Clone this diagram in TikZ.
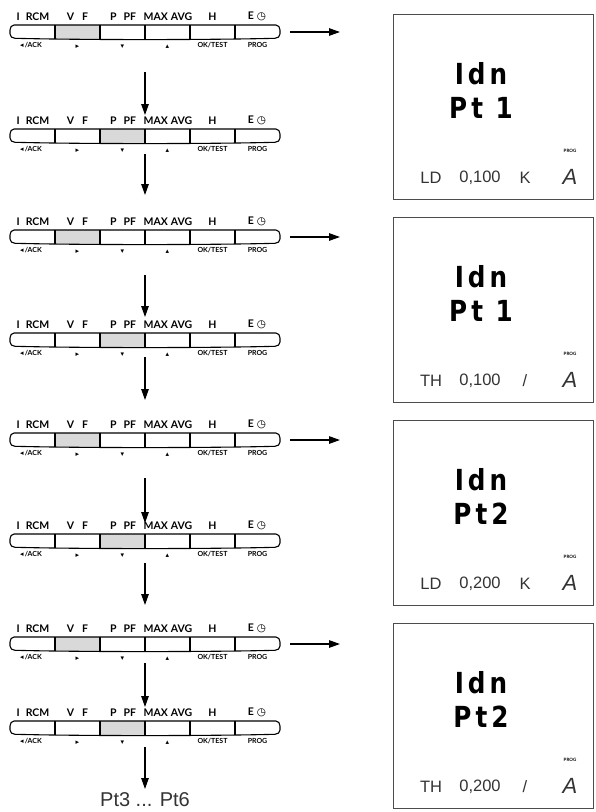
\documentclass[tikz,border=0pt]{standalone}
\usepackage{fontspec}
\usepackage{tikz}
\usetikzlibrary{arrows.meta}
\usepackage{xcolor}

\newfontfamily\kpfont{Lato}
\newfontfamily\glyphfont{DejaVu Sans}
\newfontfamily\segfont{DejaVu Sans}[FakeStretch=0.85, LetterSpace=14]
\newfontfamily\plainfont{Liberation Sans}
\definecolor{keygray}{gray}{0.85}

\tikzset{
    kpline/.style={line width=1.1pt, line join=round},
    kptop/.style={inner sep=0, font=\kpfont\bfseries\fontsize{10.5}{11}\selectfont},
    kpbot/.style={inner sep=0, font=\kpfont\bfseries\fontsize{7}{8}\selectfont},
    flow/.style={line width=1.3pt, -{Triangle[length=11pt,width=7.5pt]}},
    lcdbig/.style={inner sep=0, font=\segfont\bfseries\fontsize{29}{31}\selectfont},
    lcdsmall/.style={inner sep=0, text=black!80, font=\plainfont\fontsize{16.5}{17}\selectfont},
    lcdunit/.style={inner sep=0, text=black!80, font=\plainfont\itshape\fontsize{22}{23}\selectfont},
    lcdtag/.style={inner sep=0, font=\kpfont\bfseries\fontsize{4.5}{5}\selectfont},
    % key strip, #1 = key that is lit
    pics/keypad/.style={code={
        \fill[keygray] (45*#1-180,-7) rectangle (45*#1-135,7.3);
        \draw[kpline] (-131,-7) -- (131,-7) to[out=0,in=90] (135,-2) -- (135,2)
            to[out=-90,in=0] (130,6.3) .. controls (60,8) and (-60,8) .. (-130,6.3)
            to[out=180,in=-90] (-135,2) -- (-135,-2) to[out=90,in=180] (-131,-7) -- cycle;
        \foreach \k in {-90,-45,0,45,90}
            \draw[kpline] (\k,-7) -- (\k,7.4);
        \coordinate (-c) at (0,0);
        \coordinate (-out) at (135,0);
        \node[kptop] (-t1) at (-112,-15.5) {I\hspace{6pt}RCM};
        \node[kptop] (-t2) at (-67.5,-15.5) {V\hspace{8pt}F};
        \node[kptop] (-t3) at (-22,-15.5) {P\hspace{7pt}PF};
        \node[kptop] (-t4) at (23,-15.5) {MAX\hspace{3pt}AVG};
        \node[kptop] (-t5) at (67.5,-15.5) {H};
        \node[kptop] (-t6) at (112,-15.5) {E\hspace{3pt}{\glyphfont\mdseries ◷}};
        \node[kpbot] (-b1) at (-114,13) {{\glyphfont ◂}\,/ACK};
        \node[kpbot] (-b2) at (-67.5,14.5) {\glyphfont ▸};
        \node[kpbot] (-b3) at (-22.5,14.5) {\glyphfont ▾};
        \node[kpbot] (-b4) at (22.5,14.5) {\glyphfont ▴};
        \node[kpbot] (-b5) at (67.5,13.5) {OK/TEST};
        \node[kpbot] (-b6) at (112.5,13) {PROG};
    }},
    % display, #1 = point, #2 #3 #4 = bottom line
    pics/display/.style n args={4}{code={
        \node[draw=black!70, line width=0.7pt, minimum width=200pt, minimum height=185pt] (-frame) at (0,0) {};
        \node[lcdbig] (-l1) at (-12,-32.5) {Idn};
        \node[lcdbig] (-l2) at (-12,1.5) {#1};
        \node[lcdtag] (-prog) at (77,44.5) {PROG};
        \node[lcdsmall] (-mode) at (-62,71) {#2};
        \node[lcdsmall] (-val) at (-13,71) {#3};
        \node[lcdsmall] (-sign) at (32,71) {#4};
        \node[lcdunit] (-unit) at (77,70) {A};
    }}
}

\begin{document}
\begin{tikzpicture}[x=1pt, y=-1pt]
    \useasboundingbox (0,0) rectangle (596,812);
    % key strips
    \pic (kp1) at (145,32) {keypad=2};
    \pic (kp2) at (145,136) {keypad=3};
    \pic (kp3) at (145,237) {keypad=2};
    \pic (kp4) at (145,340) {keypad=3};
    \pic (kp5) at (145,440) {keypad=2};
    \pic (kp6) at (145,541) {keypad=3};
    \pic (kp7) at (145,644) {keypad=2};
    \pic (kp8) at (145,728) {keypad=3};
    \node[inner sep=0, anchor=north, text=black!80, font=\plainfont\fontsize{20}{22}\selectfont] (more) at (145,792) {Pt3 ... Pt6};
    % displays
    \pic (lcd1) at (493,106.5) {display={Pt 1}{LD}{0,100}{K}};
    \pic (lcd2) at (493,309.5) {display={Pt 1}{TH}{0,100}{/}};
    \pic (lcd3) at (493,512.5) {display={Pt2}{LD}{0,200}{K}};
    \pic (lcd4) at (493,715.5) {display={Pt2}{TH}{0,200}{/}};
    \coordinate (to1) at (340,32);
    \coordinate (to3) at (340,237);
    \coordinate (to5) at (340,440);
    \coordinate (to7) at (340,644);
    % down the strips
    \draw[flow, shorten <=40pt, shorten >=21pt] (kp1-c) -- (kp2-c);
    \draw[flow, shorten <=18pt, shorten >=42pt] (kp2-c) -- (kp3-c);
    \draw[flow, shorten <=38pt, shorten >=23pt] (kp3-c) -- (kp4-c);
    \draw[flow, shorten <=17pt, shorten >=40pt] (kp4-c) -- (kp5-c);
    \draw[flow, shorten <=38pt, shorten >=18pt] (kp5-c) -- (kp6-c);
    \draw[flow, shorten <=22pt, shorten >=39pt] (kp6-c) -- (kp7-c);
    \draw[flow, shorten <=19pt, shorten >=21pt] (kp7-c) -- (kp8-c);
    \draw[flow, shorten <=19pt, shorten >=3pt] (kp8-c) -- (more.north);
    % over to the displays
    \draw[flow, shorten <=10pt] (kp1-out) -- (to1);
    \draw[flow, shorten <=10pt] (kp3-out) -- (to3);
    \draw[flow, shorten <=10pt] (kp5-out) -- (to5);
    \draw[flow, shorten <=10pt] (kp7-out) -- (to7);
\end{tikzpicture}
\end{document}
